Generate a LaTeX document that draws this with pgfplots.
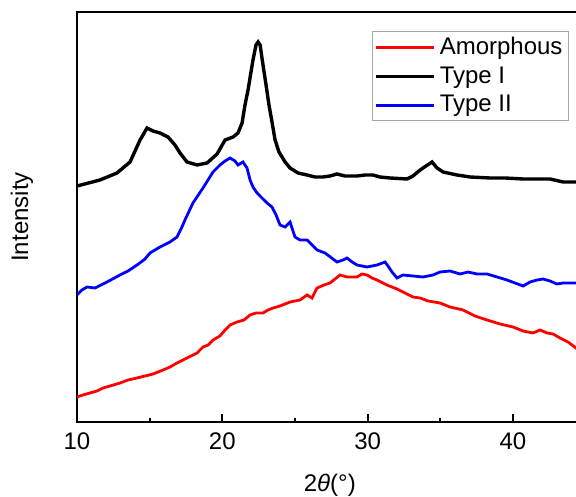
\documentclass[border=0pt]{standalone}
\usepackage{fontspec}
\setmainfont{Liberation Sans}
\usepackage{pgfplots}
\pgfplotsset{compat=1.18}

\begin{document}
\begin{tikzpicture}[font=\fontsize{12}{14}\selectfont]
% page = 288pt x 248pt; axis box lower left at (0,0), cut at 2theta = 44.34
\useasboundingbox (-38.5pt,-37pt) rectangle (249.5pt,211pt);
\begin{axis}[
  at={(0pt,0pt)}, anchor=south west,
  scale only axis, width=254.3pt, height=205pt,
  xmin=10, xmax=45, ymin=0, ymax=410,
  axis line style={line width=1.3pt},
  xtick={10,20,30,40}, minor xtick={15,25,35},
  xtick pos=bottom, tick align=inside,
  major tick length=4pt, minor tick length=2pt,
  every tick/.style={black, line width=1.1pt},
  ytick=\empty,
  /pgf/number format/assume math mode=true,
  xticklabel style={yshift=-2pt},
  xlabel={2{\itshape θ}(°)}, ylabel={Intensity},
  xlabel style={at={(axis description cs:0.497,0)}, anchor=center, yshift=-31.5pt},
  ylabel style={at={(axis description cs:0,0.5)}, anchor=center, yshift=27.5pt},
  legend style={at={(1,1)}, anchor=north east, xshift=-8.3pt, yshift=-9.5pt,
    draw=gray!70, line width=0.5pt, inner sep=1pt, row sep=0.5pt,
    font=\fontsize{12}{14}\selectfont},
  legend cell align=left,
  legend image code/.code={\draw[#1, line width=1.5pt] (0pt,0pt) -- (29pt,0pt);},
]
\addplot[red, line width=1.4pt] coordinates {
(10.0,25) (10.41,27) (10.89,29) (11.38,31) (11.79,34) (12.27,36) (12.96,39)
(13.51,42) (14.13,44) (14.68,46) (15.23,48) (15.92,52) (16.40,55) (16.88,59)
(17.57,64) (18.26,69) (18.67,75) (19.02,77) (19.36,82) (19.84,86) (20.19,92)
(20.53,97) (21.01,100) (21.49,102) (21.91,107) (22.32,109) (22.80,109) (23.15,112)
(23.49,114) (23.97,116) (24.66,120) (25.35,122) (25.83,127) (26.17,124) (26.52,134)
(27.00,137) (27.41,139) (27.76,143) (28.10,147) (28.58,145) (29.27,145) (29.61,148)
(29.96,147) (30.30,144) (30.65,142) (31.33,137) (32.02,133) (32.57,129) (33.12,125)
(33.61,124) (34.16,121) (34.98,119) (35.67,115) (36.57,112) (37.39,106) (38.22,102)
(39.11,98) (40.01,95) (40.70,91) (41.38,89) (41.87,92) (42.35,89) (42.76,88)
(43.24,84) (43.79,80) (44.34,74) (45.0,66)
};
\addlegendentry{Amorphous}
\addplot[black, line width=1.7pt] coordinates {
(10.0,236) (11.58,242) (12.75,249) (13.65,260) (14.34,282) (14.82,294) (15.23,291)
(15.71,289) (16.26,285) (16.74,277) (17.09,269) (17.57,260) (18.26,257) (18.95,259)
(19.64,268) (20.19,282) (20.74,285) (21.08,289) (21.36,299) (21.56,317) (21.77,332)
(22.11,362) (22.32,377) (22.46,380) (22.60,377) (22.80,357) (23.01,337) (23.21,317)
(23.42,300) (23.63,282) (23.90,270) (24.32,260) (24.66,254) (25.21,249) (25.83,247)
(26.38,245) (26.93,245) (27.41,246) (27.89,248) (28.44,246) (29.27,246) (29.82,247)
(30.37,247) (30.85,245) (31.54,244) (32.71,243) (33.12,246) (33.61,252) (34.02,256)
(34.43,260) (34.78,254) (35.19,250) (36.15,247) (37.05,245) (38.42,244) (39.46,244)
(40.70,243) (41.87,243) (42.55,243) (43.45,240) (44.34,240) (45.0,240)
};
\addlegendentry{Type I}
\addplot[blue, line width=1.4pt] coordinates {
(10.0,127) (10.34,132) (10.69,135) (11.24,134) (12.06,140) (12.96,147) (13.51,151)
(14.13,157) (14.68,163) (15.02,169) (15.71,175) (16.40,180) (16.88,185) (17.16,193)
(17.43,202) (17.98,219) (18.67,234) (19.36,250) (19.84,257) (20.19,261) (20.53,264)
(20.87,261) (21.08,257) (21.42,260) (21.70,254) (21.91,242) (22.11,235) (22.39,229)
(22.73,224) (23.08,219) (23.42,215) (23.70,207) (23.97,197) (24.32,195) (24.66,200)
(25.00,185) (25.35,182) (25.83,182) (26.52,172) (27.07,169) (27.89,160) (28.31,162)
(28.58,164) (28.93,160) (29.27,157) (29.96,155) (30.65,157) (31.20,160) (31.40,156)
(31.68,150) (32.02,144) (32.44,147) (33.12,146) (33.81,145) (34.50,147) (34.98,150)
(35.67,151) (36.36,148) (36.91,150) (37.53,148) (38.22,148) (38.91,145) (39.59,142)
(40.14,139) (40.70,136) (41.18,140) (41.66,142) (42.07,143) (42.55,141) (43.03,138)
(43.45,139) (43.93,139) (44.34,139) (45.0,139)
};
\addlegendentry{Type II}
\end{axis}
\end{tikzpicture}
\end{document}
